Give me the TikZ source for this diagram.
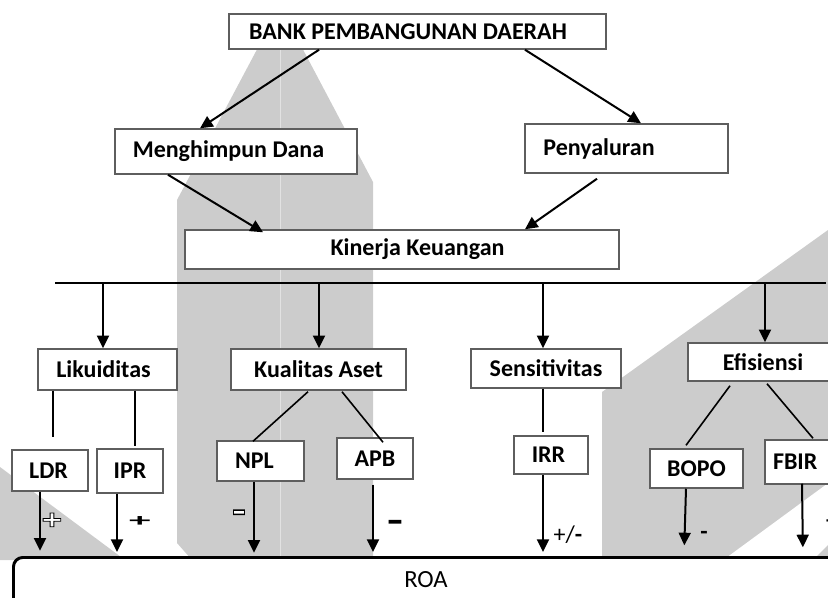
\documentclass[tikz,border=0pt]{standalone}
\usepackage{fontspec}
\setmainfont{Carlito}
\usetikzlibrary{arrows.meta,calc}
\newdimen\px \px=0.75pt
\newcommand\bxt[3]{\makebox[#1\px]{\hspace{#2\px}\hspace{#2\px}#3}}
\newcommand\bxl[3]{\makebox[#1\px][l]{\hspace{#2\px}#3}}
\newcommand\hollowtext[1]{{\color{white}\special{pdf:literal direct 0 0 0 RG 2 Tr 0.55 w}#1\special{pdf:literal direct 0 Tr}}}
\definecolor{grayarea}{HTML}{CCCCCC}
\definecolor{seamcol}{HTML}{E2E2E2}
\definecolor{boxline}{HTML}{5E5E5E}
\begin{document}
\begin{tikzpicture}[x=0.75pt,y=-0.75pt,
  wh/.style 2 args={minimum width=#1*0.75pt,minimum height=#2*0.75pt},
  bx/.style={draw=boxline,line width=1.1pt,fill=white,inner sep=0pt,
    font=\bfseries\fontsize{18}{21}\selectfont},
  arr/.style={draw=black,line width=1.5pt,-{Triangle[length=9.5pt,width=9pt]}},
  ln/.style={draw=black,line width=1.2pt},
  busline/.style={draw=black,line width=1.5pt},
  roabox/.style={draw=black,line width=2.2pt,rounded corners=7pt,fill=white,inner sep=0pt},
  sign/.style={inner sep=0pt,font=\bfseries\fontsize{18}{20}\selectfont},
]
\useasboundingbox (0,0) rectangle (828,597);
\clip (0,0) rectangle (828,597);
% background grey areas
\fill[grayarea] (262,40) -- (298,40) -- (373,182) -- (373,560) -- (192,560) -- (177,543) -- (177,200) -- cycle;
\draw[seamcol,line width=0.6pt] (280,13) -- (280,556);
\fill[grayarea] (828,230) -- (602,392) -- (602,560) -- (723,560) -- (828,483) -- cycle;
\fill[grayarea] (813,560) -- (828,545) -- (828,560) -- cycle;
\fill[grayarea] (0,467) -- (125,560) -- (0,560) -- cycle;

% boxes
\node[bx,wh={377}{35}] (bank) at (417.5,31.5) {\bxt{377}{-9.5}{\raisebox{-2\px}{BANK PEMBANGUNAN DAERAH}}};
\node[bx,wh={242}{45}] (mh) at (236,151.5) {\bxt{242}{-7.5}{Menghimpun Dana}};
\node[bx,wh={203}{49}] (py) at (626.5,148.5) {\bxt{203}{-27.5}{\raisebox{3\px}{Penyaluran}}};
\node[bx,wh={434}{39}] (kin) at (402,249.5) {\bxt{434}{15.5}{Kinerja Keuangan}};
\node[bx,wh={139}{41}] (lik) at (107.5,369.5) {\bxt{139}{-4}{Likuiditas}};
\node[bx,wh={175}{41}] (ka) at (318.5,369.5) {\bxt{175}{0}{Kualitas Aset}};
\node[bx,wh={150}{39}] (sen) at (546,368.5) {\bxt{150}{0}{Sensitivitas}};
\node[bx,wh={150}{38}] (efi) at (763,362) {\bxt{150}{0}{Efisiensi}};
\node[bx,wh={76}{41}] (ldr) at (50,470.5) {\bxt{76}{-1.5}{LDR}};
\node[bx,wh={66}{44}] (ipr) at (130,471) {\bxt{66}{0}{IPR}};
\node[bx,wh={87}{40}] (npl) at (260.5,461) {\bxt{87}{-6}{NPL}};
\node[bx,wh={76}{41}] (apb) at (375,458.5) {\bxt{76}{0}{APB}};
\node[bx,wh={74}{38}] (irr) at (551,455) {\bxt{74}{-2.5}{IRR}};
\node[bx,wh={93}{39}] (bopo) at (696.5,468.5) {\bxt{93}{0}{\raisebox{-2\px}{BOPO}}};
\node[bx,wh={72}{44}] (fbir) at (801,462) {\bxl{72}{8}{FBIR}};

\node[roabox,wh={840}{80},anchor=north west] (roa) at (12,556) {};
\node[inner sep=0pt,font=\fontsize{18.5}{20}\selectfont] (roatxt) at (426,580) {ROA};

% top arrows
\draw[arr] ($(bank.south)+(-98.5,0)$) -- ($(mh.north)+(-36,0)$);
\draw[arr] ($(bank.south)+(107.5,0)$) -- ($(py.north)+(14.5,0)$);
\draw[arr] ($(mh.south)+(-68,0)$) -- ($(kin.north)+(-139,3)$);
\draw[arr] ($(py.south)+(-29.5,5)$) -- ($(kin.north)+(123,0)$);

% bus
\coordinate (busL) at (55,283);
\coordinate (busR) at (826,283);
\draw[busline] (busL) -- (busR);
\coordinate (d1) at (103,283);
\coordinate (d2) at (319,283);
\coordinate (d3) at (543,283);
\coordinate (d4) at (765,283);
\draw[arr] (d1) -- (d1 |- lik.north);
\draw[arr] (d2) -- (d2 |- ka.north);
\draw[arr] (d3) -- (d3 |- sen.north);
\draw[arr] (d4) -- (d4 |- efi.north);

% child lines
\draw[ln] ($(lik.south)+(-54.5,0)$) -- ($(ldr.north)+(3,-12)$);
\draw[ln] ($(lik.south)+(27.5,0)$) -- ($(ipr.north)+(5,-2)$);
\draw[ln] ($(ka.south)+(-10.5,1)$) -- ($(npl.north)+(-7.5,1)$);
\draw[ln] ($(ka.south)+(23.5,1)$) -- ($(apb.north)+(8,5)$);
\draw[ln] ($(sen.south)+(-3,0)$) -- ($(irr.north)+(-8,-3)$);
\draw[ln] ($(efi.south)+(-33,4)$) -- ($(bopo.north)+(-10.5,-3)$);
\draw[ln] ($(efi.south)+(4,2)$) -- ($(fbir.north)+(12,-1)$);

% arrows to ROA
\coordinate (a1) at ($(ldr.south)+(-10,0)$);
\coordinate (a2) at ($(ipr.south)+(-13,0)$);
\coordinate (a3) at ($(npl.south)+(-6.5,0)$);
\coordinate (a4) at ($(apb.south)+(-2,5)$);
\coordinate (a5) at ($(irr.south)+(-8,0)$);
\coordinate (a6) at ($(bopo.south)+(-10.5,0)$);
\coordinate (a7) at ($(fbir.south)+(1,-1)$);
\draw[arr,shorten >=4pt] (a1) -- (a1 |- roa.north);
\draw[arr,shorten >=3pt] (a2) -- (a2 |- roa.north);
\draw[arr,shorten >=2.5pt] (a3) -- (a3 |- roa.north);
\draw[arr,shorten >=3pt] (a4) -- (a4 |- roa.north);
\draw[arr,shorten >=3pt] (a5) -- (a5 |- roa.north);
\draw[arr,shorten >=8pt] (a6) -- ($(a6 |- roa.north)+(-2,0)$);
\draw[arr,shorten >=6.5pt] (a7) -- ($(a7 |- roa.north)+(1,0)$);

% signs
\node[sign,font=\bfseries\fontsize{22}{22}\selectfont] (sLDR) at (52,521)
  {\hollowtext{\scalebox{1.3}[1.0]{+}}};
\node[sign] (sIPR) at (140,522) {\scalebox{1.8}[0.75]{+}};
\node[sign] (sNPL) at (239,518)
  {\hollowtext{\scalebox{1.3}[2.0]{\textendash}}};
\node[sign] (sAPB) at (395,527) {\scalebox{1.5}[1.8]{\textendash}};
\node[sign,font=\fontsize{18}{20}\selectfont] (sIRR) at (568,535) {+/\textbf{-}};
\node[sign] (sBOPO) at (704,535) {-};
\node[sign] (sFBIR) at (832,522) {+};
\end{tikzpicture}
\end{document}
